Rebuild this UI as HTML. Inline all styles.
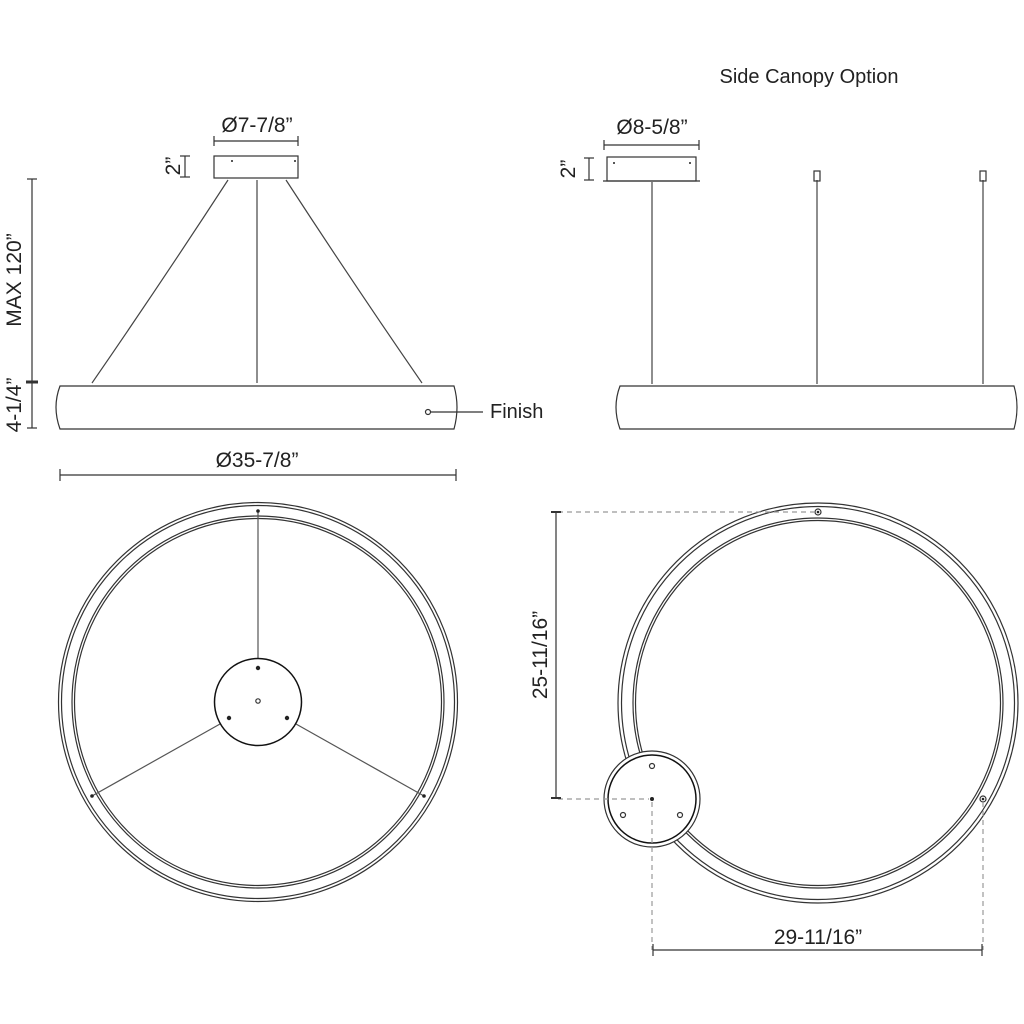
<!DOCTYPE html>
<html><head><style>
html,body{margin:0;padding:0;background:#fff;}
svg{display:block;}
text{font-family:"Liberation Sans",sans-serif;fill:#222;}
</style></head><body>
<svg width="1024" height="1024" viewBox="0 0 1024 1024" xmlns="http://www.w3.org/2000/svg">
<g fill="none" stroke="#333" stroke-width="1.2">
<line x1="214" y1="141" x2="298" y2="141"/>
<line x1="214" y1="136" x2="214" y2="146"/><line x1="298" y1="136" x2="298" y2="146"/>
<rect x="214" y="156" width="84" height="22"/>
<line x1="185" y1="156" x2="185" y2="177"/>
<line x1="180" y1="156" x2="190" y2="156"/><line x1="180" y1="177" x2="190" y2="177"/>
<line x1="32" y1="179" x2="32" y2="428"/>
<line x1="27" y1="179" x2="37" y2="179"/><line x1="27" y1="428" x2="37" y2="428"/>
<line x1="26" y1="382" x2="38" y2="382" stroke-width="3"/>
<path d="M228 180 Q163 280 92 383" stroke="#444"/>
<line x1="257" y1="180" x2="257" y2="383" stroke="#444"/>
<path d="M286 180 Q351 280 422 383" stroke="#444"/>
<path d="M60 386 L454 386 Q460 407 454 429 L60 429 Q52 407 60 386 Z"/>
<circle cx="428" cy="412" r="2.5"/>
<line x1="431" y1="412" x2="483" y2="412"/>
<line x1="60" y1="475" x2="456" y2="475"/>
<line x1="60" y1="469" x2="60" y2="481"/><line x1="456" y1="469" x2="456" y2="481"/>
<line x1="604" y1="145" x2="699" y2="145"/>
<line x1="604" y1="140" x2="604" y2="150"/><line x1="699" y1="140" x2="699" y2="150"/>
<rect x="607" y="157" width="89" height="24"/>
<line x1="603" y1="181" x2="700" y2="181"/>
<line x1="589" y1="158" x2="589" y2="180"/>
<line x1="584" y1="158" x2="594" y2="158"/><line x1="584" y1="180" x2="594" y2="180"/>
<line x1="652" y1="182" x2="652" y2="384" stroke="#444"/>
<line x1="817" y1="180" x2="817" y2="384" stroke="#444"/>
<line x1="983" y1="180" x2="983" y2="384" stroke="#444"/>
<rect x="814" y="171" width="6" height="10"/>
<rect x="980" y="171" width="6" height="10"/>
<path d="M620 386 L1014 386 Q1020 407 1014 429 L620 429 Q612 407 620 386 Z"/>
<circle cx="258" cy="702" r="199.5"/>
<circle cx="258" cy="702" r="196.5"/>
<circle cx="258" cy="702" r="186"/>
<circle cx="258" cy="702" r="183.5"/>
<line x1="258" y1="511" x2="258" y2="658" stroke="#555"/>
<line x1="220" y1="724" x2="92" y2="796" stroke="#555"/>
<line x1="296" y1="724" x2="424" y2="796" stroke="#555"/>
<circle cx="258" cy="702" r="43.5" stroke="#111" stroke-width="1.5"/>
<circle cx="258" cy="701" r="2.2"/>
<circle cx="818" cy="703" r="200"/>
<circle cx="818" cy="703" r="196.5"/>
<circle cx="818" cy="703" r="185"/>
<circle cx="818" cy="703" r="182.5"/>
<circle cx="652" cy="799" r="48" fill="#fff"/>
<circle cx="652" cy="799" r="44" stroke="#111" stroke-width="1.5"/>
<circle cx="652" cy="766" r="2.5"/>
<circle cx="623" cy="815" r="2.5"/>
<circle cx="680" cy="815" r="2.5"/>
<circle cx="818" cy="512" r="3"/>
<circle cx="983" cy="799" r="3"/>
<g stroke="#999" stroke-dasharray="5,4">
<line x1="558" y1="512" x2="815" y2="512"/>
<line x1="558" y1="799" x2="649" y2="799"/>
<line x1="652" y1="802" x2="652" y2="950"/>
<line x1="983" y1="802" x2="983" y2="950"/>
</g>
<line x1="556" y1="512" x2="556" y2="798"/>
<line x1="551" y1="512" x2="561" y2="512" stroke-width="2"/><line x1="551" y1="798" x2="561" y2="798" stroke-width="2"/>
<line x1="653" y1="950" x2="982" y2="950"/>
<line x1="653" y1="944" x2="653" y2="956"/><line x1="982" y1="944" x2="982" y2="956"/>
</g>
<g fill="#222">
<circle cx="232" cy="161" r="1"/><circle cx="295" cy="161" r="1"/>
<circle cx="614" cy="163" r="1"/><circle cx="690" cy="163" r="1"/>
<circle cx="258" cy="511" r="1.8"/><circle cx="92" cy="796" r="1.8"/><circle cx="424" cy="796" r="1.8"/>
<circle cx="258" cy="668" r="2.2"/><circle cx="229" cy="718" r="2.2"/><circle cx="287" cy="718" r="2.2"/>
<circle cx="652" cy="799" r="2"/><circle cx="818" cy="512" r="1.3"/><circle cx="983" cy="799" r="1.3"/>
</g>
<text x="257" y="132" font-size="21" text-anchor="middle">Ø7-7/8”</text>
<text x="0" y="0" font-size="21" text-anchor="middle" transform="translate(180,166) rotate(-90)">2”</text>
<text x="0" y="0" font-size="21" text-anchor="middle" transform="translate(21,280) rotate(-90)">MAX 120”</text>
<text x="0" y="0" font-size="21" text-anchor="middle" transform="translate(21,405) rotate(-90)">4-1/4”</text>
<text x="490" y="418" font-size="20">Finish</text>
<text x="257" y="467" font-size="21" text-anchor="middle">Ø35-7/8”</text>
<text x="809" y="83" font-size="20" text-anchor="middle">Side Canopy Option</text>
<text x="652" y="134" font-size="21" text-anchor="middle">Ø8-5/8”</text>
<text x="0" y="0" font-size="21" text-anchor="middle" transform="translate(575,169) rotate(-90)">2”</text>
<text x="0" y="0" font-size="21" text-anchor="middle" transform="translate(547,655) rotate(-90)">25-11/16”</text>
<text x="818" y="944" font-size="21" text-anchor="middle">29-11/16”</text>
</svg>
</body></html>
